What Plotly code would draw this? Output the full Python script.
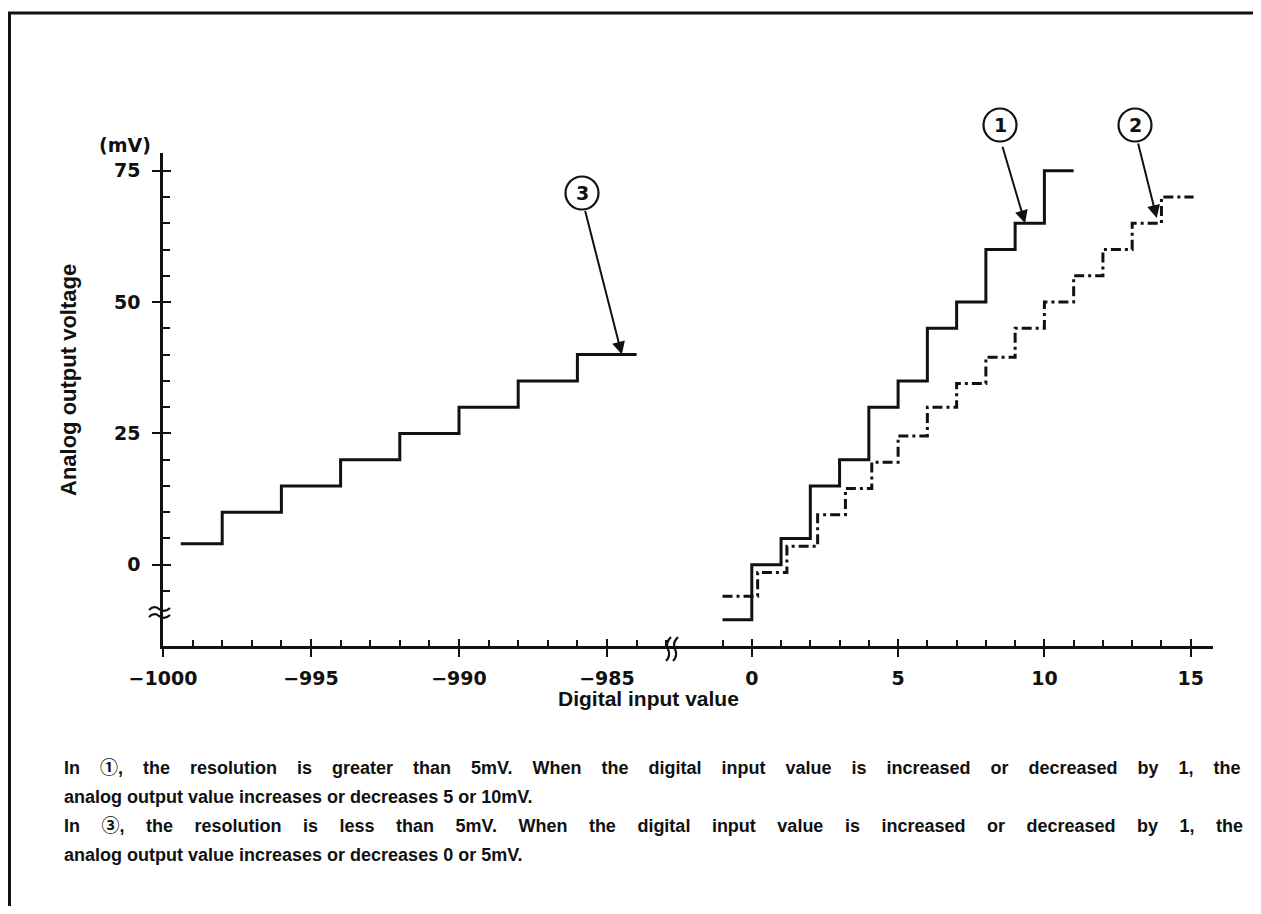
import plotly.graph_objects as go

# ---------------- data ----------------
# series (3): left part of the broken x axis, input values near -1000
s3_x = [-999.4, -998, -996, -994, -992, -990, -988, -986, -984]
s3_y = [4, 10, 15, 20, 25, 30, 35, 40, 40]
# series (1): solid staircase
s1_x = [-1, 0, 1, 2, 3, 4, 5, 6, 7, 8, 9, 10, 11]
s1_y = [-10.5, 0, 5, 15, 20, 30, 35, 45, 50, 60, 65, 75, 75]
# series (2): dash-dot staircase
s2_x = [-1, 0.2, 1.2, 2.25, 3.2, 4.1, 5, 6, 7, 8, 9, 10, 11, 12, 13, 14, 15.1]
s2_y = [-6, -1.5, 3.5, 9.5, 14.5, 19.5, 24.5, 30, 34.5, 39.5, 45, 50, 55, 60, 65, 70, 70]

y_ticks = [0, 25, 50, 75]
y_minor = [-5, 5, 10, 15, 20, 30, 35, 40, 45, 55, 60, 65, 70]
xl_ticks = [-1000, -995, -990, -985]
xl_minor = [v for v in range(-999, -982) if v not in xl_ticks]
xr_ticks = [0, 5, 10, 15]
xr_minor = [v for v in range(-1, 16) if v not in xr_ticks]

para_lines = [
    ("In \u2460, the resolution is greater than 5mV. When the digital input value is increased or decreased by 1, the", " \u2002\u2004"),
    ("analog output value increases or decreases 5 or 10mV.", " "),
    ("In \u2462, the resolution is less than 5mV. When the digital input value is increased or decreased by 1, the", " \u2002\u2005\u2006"),
    ("analog output value increases or decreases 0 or 5mV.", " "),
]

# ---------------- layout geometry (reference pixels) ----------------
OFF = 8                      # browser body margin
FW, FH = 1261 - OFF, 914 - 2 * OFF
L, R, T, B = 163, 1213, 153, 646
SPLIT = 673
PW, PH = R - L, B - T


def px(x):
    return (x - L) / PW


def py(y):
    return (B - y) / PH


INK = "#111111"
FONT = "Liberation Sans"
TFONT = "DejaVu Sans"

fig = go.Figure()
line_style = dict(color=INK, width=3, shape="hv")
fig.add_trace(go.Scatter(x=s3_x, y=s3_y, mode="lines", line=line_style,
                         xaxis="x", yaxis="y", showlegend=False, hoverinfo="skip"))
fig.add_trace(go.Scatter(x=s1_x, y=s1_y, mode="lines", line=line_style,
                         xaxis="x2", yaxis="y", showlegend=False, hoverinfo="skip"))
fig.add_trace(go.Scatter(x=s2_x, y=s2_y, mode="lines",
                         line=dict(color=INK, width=3, shape="hv", dash="10px,4px,3px,4px"),
                         xaxis="x2", yaxis="y", showlegend=False, hoverinfo="skip"))
# empty traces so overlay axes (inside halves of the crossing major ticks) are drawn
fig.add_trace(go.Scatter(x=[], y=[], xaxis="x", yaxis="y2", showlegend=False, hoverinfo="skip"))
fig.add_trace(go.Scatter(x=[], y=[], xaxis="x3", yaxis="y", showlegend=False, hoverinfo="skip"))
fig.add_trace(go.Scatter(x=[], y=[], xaxis="x4", yaxis="y", showlegend=False, hoverinfo="skip"))

yr = [-15.48, 78.39]
xl_range = [-1000, -1000 + (SPLIT - L) / 29.6]
xr_range = [(SPLIT - 751.8) / 29.26, (R - 751.8) / 29.26]
d_split = px(SPLIT)

tickfont = dict(family=TFONT, size=19, color=INK, weight="bold")
common = dict(showgrid=False, zeroline=False, showline=True, linecolor=INK, linewidth=2.5,
              ticks="outside", ticklen=8, tickwidth=2, tickcolor=INK, tickfont=tickfont,
              fixedrange=True)

fig.update_layout(
    width=FW, height=FH,
    margin=dict(l=L - OFF, r=FW - (R - OFF), t=T - OFF, b=FH - (B - OFF)),
    paper_bgcolor="white", plot_bgcolor="white",
    xaxis=dict(domain=[0, d_split], range=xl_range, anchor="y", tickmode="array",
               tickvals=xl_ticks, ticklabelstandoff=5,
               minor=dict(ticks="inside", tickmode="array", tickvals=xl_minor, ticklen=6,
                          tickwidth=2, tickcolor=INK), **common),
    xaxis2=dict(domain=[d_split, 1], range=xr_range, anchor="y", tickmode="array",
                tickvals=xr_ticks, ticklabelstandoff=5,
                minor=dict(ticks="inside", tickmode="array", tickvals=xr_minor, ticklen=6,
                           tickwidth=2, tickcolor=INK), **common),
    xaxis3=dict(overlaying="x", range=xl_range, anchor="y", tickmode="array", tickvals=xl_ticks,
                ticks="inside", ticklen=7, tickwidth=2, tickcolor=INK, showticklabels=False,
                showline=False, showgrid=False, zeroline=False, fixedrange=True),
    xaxis4=dict(overlaying="x2", range=xr_range, anchor="y", tickmode="array", tickvals=xr_ticks,
                ticks="inside", ticklen=7, tickwidth=2, tickcolor=INK, showticklabels=False,
                showline=False, showgrid=False, zeroline=False, fixedrange=True),
    yaxis=dict(range=yr, anchor="x", tickmode="array", tickvals=y_ticks, ticklabelstandoff=8,
               minor=dict(ticks="inside", tickmode="array", tickvals=y_minor, ticklen=7,
                          tickwidth=2, tickcolor=INK), **common),
    yaxis2=dict(overlaying="y", range=yr, anchor="x", tickmode="array", tickvals=y_ticks,
                ticks="inside", ticklen=8, tickwidth=2, tickcolor=INK, showticklabels=False,
                showline=False, showgrid=False, zeroline=False, fixedrange=True),
)

shapes = []
# outer frame
shapes.append(dict(type="rect", xref="paper", yref="paper", x0=px(9.5), x1=px(1257), y0=py(940), y1=py(13),
                   line=dict(color=INK, width=3)))


def path(points):
    s = "M {:.5f},{:.5f}".format(px(points[0][0]), py(points[0][1]))
    for i in range(1, len(points) - 1, 2):
        s += " Q {:.5f},{:.5f} {:.5f},{:.5f}".format(px(points[i][0]), py(points[i][1]),
                                                    px(points[i + 1][0]), py(points[i + 1][1]))
    return s


# x-axis break marks
for dx in (0, 7):
    x0 = 668 + dx
    shapes.append(dict(type="path", xref="paper", yref="paper",
                       path=path([(x0 + 3, 637), (x0 - 3, 643), (x0, 649), (x0 + 3, 656), (x0 - 2, 661)]),
                       line=dict(color=INK, width=2.2)))
# y-axis break marks
for dy in (0, 7):
    y0 = 609 + dy
    shapes.append(dict(type="path", xref="paper", yref="paper",
                       path=path([(149, y0 + 1), (154, y0 - 4), (159, y0), (165, y0 + 4), (170, y0 - 1)]),
                       line=dict(color=INK, width=2.2)))

# circled labels
circles = [("1", 1000, 125), ("2", 1135, 125), ("3", 582, 193)]
ann = []
for lab, cx, cy in circles:
    shapes.append(dict(type="circle", xref="paper", yref="paper", xsizemode="pixel", ysizemode="pixel",
                       xanchor=px(cx), yanchor=py(cy), x0=-16.5, x1=16.5, y0=-16.5, y1=16.5,
                       line=dict(color=INK, width=2.2)))
    ann.append(dict(text=lab, xref="paper", yref="paper", x=px(cx), y=py(cy), showarrow=False,
                    font=dict(family=TFONT, size=19, color=INK, weight="bold"),
                    xanchor="center", yanchor="middle"))

# arrows from the circled labels to the curves
arrows = [("x2", 9.34, 65, -23, -78), ("x2", 13.84, 66, -19, -76), ("x", -984.5, 40, -37, -145)]
for xr_, xv, yv, ax, ay in arrows:
    ann.append(dict(text="", xref=xr_, yref="y", x=xv, y=yv, ax=ax, ay=ay, showarrow=True,
                    arrowhead=2, arrowsize=1.3, arrowwidth=2, arrowcolor=INK, standoff=0,
                    startstandoff=0))

# axis texts
ann.append(dict(text="(mV)", xref="paper", yref="paper", x=px(125), y=py(145), showarrow=False,
                font=dict(family=TFONT, size=19, color=INK, weight="bold"), xanchor="center", yanchor="middle"))
ann.append(dict(text="Analog output voltage", xref="paper", yref="paper", x=px(68), y=py(380),
                showarrow=False, textangle=-90,
                font=dict(family=FONT, size=22, color=INK, weight="bold"), xanchor="center", yanchor="middle"))
ann.append(dict(text="Digital input value", xref="paper", yref="paper", x=px(648), y=py(698),
                showarrow=False,
                font=dict(family=FONT, size=21, color=INK, weight="bold"), xanchor="center", yanchor="middle"))

for (txt, gap), yy in zip(para_lines, [768, 797, 826, 855]):
    t = txt.replace(" ", gap)
    ann.append(dict(text=t, xref="paper", yref="paper", x=px(62), y=py(yy), showarrow=False,
                    font=dict(family=FONT + ", Noto Sans CJK JP", size=18, color=INK, weight="bold"),
                    xanchor="left", yanchor="middle"))

fig.update_layout(shapes=shapes, annotations=ann)
fig.write_html("out.html")
